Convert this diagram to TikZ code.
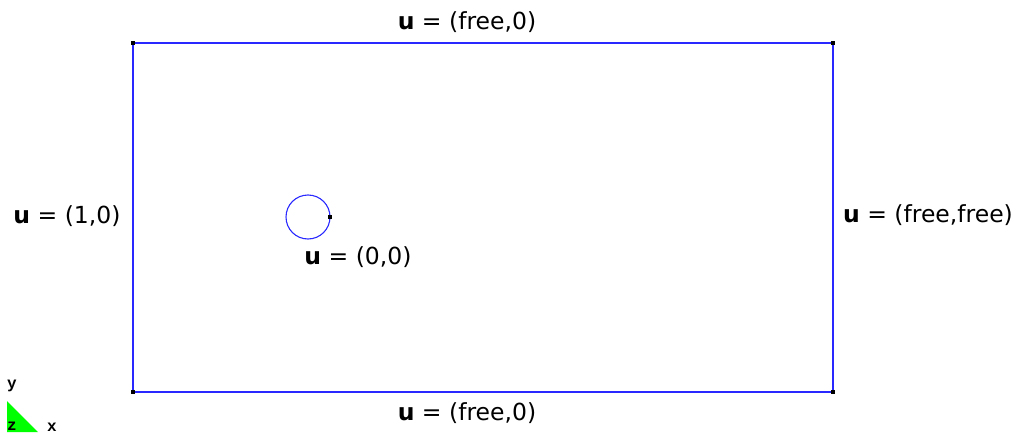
\documentclass[tikz,border=0pt]{standalone}
\usepackage{fontspec}
\setmainfont{DejaVu Sans}
\newfontfamily\axfont{Liberation Mono}
\definecolor{bblue}{RGB}{40,40,255}
\begin{document}
\begin{tikzpicture}[x=1pt,y=-1pt,
  bnd/.style={draw=bblue, line width=1.4pt},
  pt/.style={fill=black, inner sep=0pt, minimum size=4pt, rectangle},
  lbl/.style={font=\fontsize{23.5}{26}\selectfont, inner sep=0pt},
  ax/.style={font=\axfont\bfseries\fontsize{16}{16}\selectfont, inner sep=0pt}]
\useasboundingbox (0,0) rectangle (1016,433);
\coordinate (A) at (133,43);
\coordinate (B) at (833,43);
\coordinate (C) at (833,392);
\coordinate (D) at (133,392);
\draw[bnd] (A) -- (B) -- (C) -- (D) -- cycle;
\node[pt] (pA) at (A) {};
\node[pt] (pB) at (B) {};
\node[pt] (pC) at (C) {};
\node[pt] (pD) at (D) {};
\coordinate (O) at (308,217);
\draw[bnd, line width=1.1pt] (O) circle (22);
\node[pt, minimum size=3.5pt] (pO) at (330,217) {};
\node[lbl] (top) at (467,22) {\textbf{u} = (free,0)};
\node[lbl] (bot) at (467,413) {\textbf{u} = (free,0)};
\node[lbl] (left) at (67,216) {\textbf{u} = (1,0)};
\node[lbl] (right) at (928,215) {\textbf{u} = (free,free)};
\node[lbl] (hole) at (358,257) {\textbf{u} = (0,0)};
\fill[green] (7,401) -- (7,432) -- (38,432) -- cycle;
\node[ax] (ay) at (12,386) {y};
\node[ax] (az) at (12,426) {z};
\node[ax] (axx) at (52,427) {x};
\end{tikzpicture}
\end{document}
